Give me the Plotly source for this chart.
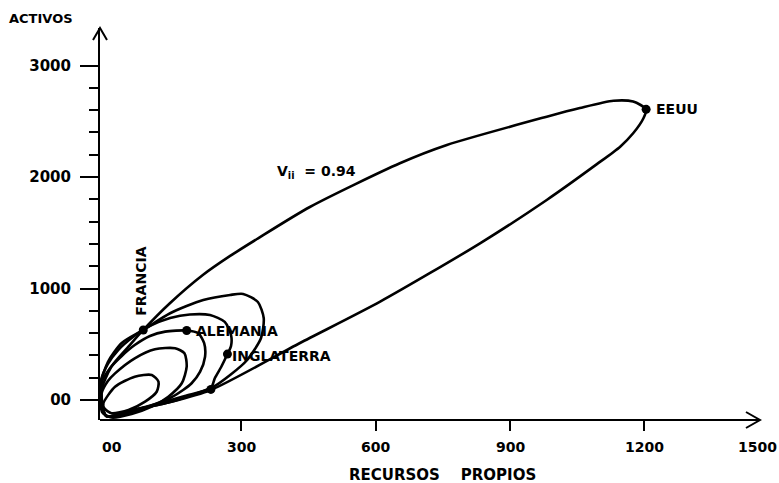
import plotly.graph_objects as go

# ---------------- data ----------------
X_TICKS = [0, 300, 600, 900, 1200, 1500]
X_TICK_TEXT = ["00", "300", "600", "900", "1200", "1500"]
Y_TICKS = [0, 1000, 2000, 3000]
Y_TICK_TEXT = ["00", "1000", "2000", "3000"]
Y_MINOR = [200, 400, 600, 800, 1200, 1400, 1600, 1800, 2200, 2400, 2600, 2800]

X_TITLE = "RECURSOS\u00a0\u00a0\u00a0\u00a0PROPIOS"
Y_TITLE = "ACTIVOS"

LOOP_A_X = [-8, 18, 62, 100, 115, 111, 85, 48, 10, -6]
LOOP_A_Y = [-30, 119, 209, 224, 164, 74, -15, -90, -119, -74]

LOOP_B_X = [-12, 2, 18, 62, 107, 152, 173, 178, 167, 137, 100, 55, 10, -11]
LOOP_B_Y = [60, 170, 239, 374, 455, 464, 419, 299, 150, 30, -60, -126, -157, -108]

LOOP_C_X = [-12, 7, 33, 62, 96, 130, 178, 204, 217, 219, 208, 189, 170, 141, 96, 47, -2]
LOOP_C_Y = [150, 287, 395, 493, 574, 613, 623, 598, 509, 388, 254, 150, 90, 18, -54, -117, -143]

LOOP_D_X = [-14, 2, 25, 58, 96, 141, 185, 230, 263, 277, 277, 269, 255, 241, 232, 174, 118, 58, -2]
LOOP_D_Y = [161, 323, 448, 565, 664, 735, 767, 762, 700, 583, 484, 412, 296, 197, 108, 36, -27, -90, -143]

LOOP_E_X = [-14, 2, 33, 81, 141, 215, 275, 304, 337, 350, 344, 313, 275, 237, 141, 58, -2]
LOOP_E_Y = [135, 341, 511, 628, 778, 897, 942, 951, 879, 735, 556, 359, 224, 117, -18, -90, -143]

LOOP_F_X = [-13, 10, 48, 81, 141, 214, 275, 335, 453, 654, 759, 982, 1056, 1131, 1175, 1204,
            1198, 1175, 1146, 1094, 982, 833, 610, 431, 232, 141, 59, -2]
LOOP_F_Y = [72, 299, 478, 628, 870, 1121, 1292, 1444, 1731, 2123, 2287, 2541, 2619, 2684, 2676, 2607,
            2527, 2392, 2272, 2115, 1794, 1405, 882, 511, 90, -18, -90, -143]

POINT_LABELS = ["EEUU", "ALEMANIA", "INGLATERRA", "FRANCIA", ""]
POINT_X = [1204, 178, 269, 81, 232]
POINT_Y = [2607, 623, 412, 628, 95]

CURVE_LABEL = "V<sub>ii</sub>\u00a0 = 0.94"
CURVE_LABEL_X = 467
CURVE_LABEL_Y = 2045

# ---------------- figure ----------------
FONT = "DejaVu Sans"
X_RANGE = [-15.6, 1500.7]
Y_RANGE = [-179.4, 3336.3]

fig = go.Figure()

loops = [(LOOP_A_X, LOOP_A_Y), (LOOP_B_X, LOOP_B_Y), (LOOP_C_X, LOOP_C_Y),
         (LOOP_D_X, LOOP_D_Y), (LOOP_E_X, LOOP_E_Y), (LOOP_F_X, LOOP_F_Y)]
for xs, ys in loops:
    fig.add_trace(go.Scatter(
        x=xs + [xs[0]], y=ys + [ys[0]], mode="lines",
        line=dict(color="black", width=2.6, shape="spline", smoothing=0.7),
        hoverinfo="skip", showlegend=False))

fig.add_trace(go.Scatter(
    x=POINT_X, y=POINT_Y, mode="markers",
    marker=dict(color="black", size=9),
    hoverinfo="skip", showlegend=False, cliponaxis=False))

annotations = []
label_style = {
    "EEUU": dict(xanchor="left", yanchor="middle", xshift=8, yshift=0, textangle=0),
    "ALEMANIA": dict(xanchor="left", yanchor="middle", xshift=7, yshift=0, textangle=0),
    "INGLATERRA": dict(xanchor="left", yanchor="middle", xshift=3, yshift=-2, textangle=0),
    "FRANCIA": dict(xanchor="center", yanchor="bottom", xshift=-2, yshift=12, textangle=-90),
}
for name, px, py in zip(POINT_LABELS, POINT_X, POINT_Y):
    if not name:
        continue
    st = label_style[name]
    annotations.append(dict(
        x=px, y=py, xref="x", yref="y", text=name, showarrow=False,
        font=dict(family=FONT, size=14, color="black", weight="bold"), **st))

annotations.append(dict(
    x=CURVE_LABEL_X, y=CURVE_LABEL_Y, xref="x", yref="y", text=CURVE_LABEL,
    showarrow=False, xanchor="center", yanchor="middle",
    font=dict(family=FONT, size=14, color="black", weight="bold")))

for v, t in zip(X_TICKS, X_TICK_TEXT):
    annotations.append(dict(
        x=v, y=0, xref="x", yref="paper", yshift=-27, text=t, showarrow=False,
        xshift=5 if v == X_TICKS[0] else 0,
        xanchor="right" if v == X_TICKS[-1] else "center", yanchor="middle",
        font=dict(family=FONT, size=14, color="black", weight="bold")))

annotations.append(dict(
    x=-0.0862, y=1.023, xref="paper", yref="paper", text=Y_TITLE, showarrow=False,
    xanchor="center", yanchor="middle",
    font=dict(family=FONT, size=13, color="black", weight="bold")))
annotations.append(dict(
    x=0.5044, y=-0.1403, xref="paper", yref="paper", text=X_TITLE, showarrow=False,
    xanchor="center", yanchor="middle",
    font=dict(family=FONT, size=15, color="black", weight="bold")))

shapes = [
    # x axis line ending in an arrow
    dict(type="line", xref="paper", yref="paper", x0=0, y0=0, x1=0.972, y1=0,
         line=dict(color="black", width=2)),
    dict(type="path", xref="paper", yref="paper", xsizemode="pixel", ysizemode="pixel",
         xanchor=0.972, yanchor=0, path="M-14,8 L0,0 L-14,-8",
         line=dict(color="black", width=2)),
    # y axis arrow head
    dict(type="path", xref="paper", yref="paper", xsizemode="pixel", ysizemode="pixel",
         xanchor=0, yanchor=1, path="M-7,-12 L0,0 L7,-12",
         line=dict(color="black", width=2)),
]

fig.update_layout(
    width=779, height=483,
    margin=dict(l=100, r=0, t=28, b=63, pad=0),
    paper_bgcolor="white", plot_bgcolor="white",
    showlegend=False,
    annotations=annotations,
    shapes=shapes,
    xaxis=dict(range=X_RANGE, showgrid=False, zeroline=False, showline=False,
               tickmode="array", tickvals=X_TICKS[1:-1], ticks="outside",
               ticklen=10, tickwidth=2, tickcolor="black", showticklabels=False,
               fixedrange=True),
    yaxis=dict(range=Y_RANGE, showgrid=False, zeroline=False, showline=True,
               linecolor="black", linewidth=2,
               tickmode="array", tickvals=Y_TICKS, ticktext=Y_TICK_TEXT,
               ticks="outside", ticklen=18, tickwidth=2, tickcolor="black",
               ticklabelstandoff=6,
               tickfont=dict(family=FONT, size=15, color="black", weight="bold"),
               minor=dict(tickmode="array", tickvals=Y_MINOR, ticks="outside",
                          ticklen=9, tickwidth=2, tickcolor="black", showgrid=False),
               fixedrange=True),
)

fig.write_html("out.html")
